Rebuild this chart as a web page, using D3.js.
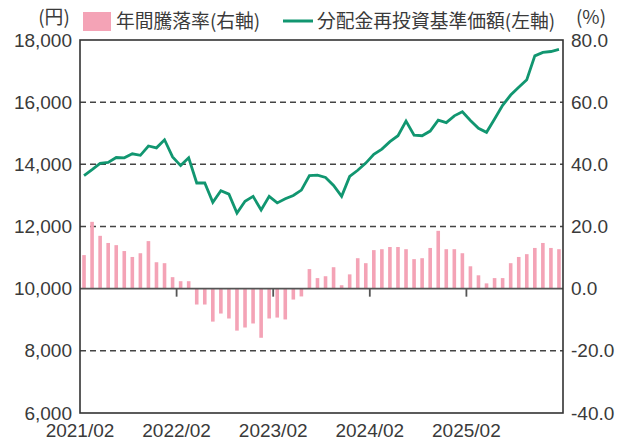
<!DOCTYPE html>
<html>
<head>
<meta charset="utf-8">
<script src="https://cdn.jsdelivr.net/npm/d3@7"></script>
<style>
  body { margin: 0; background: #fff; }
  text { fill: #3a3a3a; }
  .num { font-family: "Liberation Sans", Arial, sans-serif; font-size: 19px; }
  .jp  { font-family: "Noto Sans CJK JP", sans-serif; font-size: 18.8px; }
</style>
</head>
<body>
<div id="chart"></div>
<script>
// monthly categories 2021/02 .. 2026/01
const months = d3.timeMonth.range(new Date(2021, 1, 1), new Date(2026, 1, 1))
                  .map(d3.timeFormat('%Y/%m'));

const yearTicks = ['2021/02', '2022/02', '2023/02', '2024/02', '2025/02'];

// 分配金再投資基準価額 (円, left axis)
const navValues = [
    13640, 13830, 14030, 14060, 14220, 14210, 14340, 14290, 14590, 14530, 14790, 14240,
    13960, 14210, 13400, 13400, 12780, 13150, 13040, 12430, 12810, 12970, 12530, 12970,
    12760, 12890, 13000, 13170, 13640, 13650, 13580, 13320, 12970, 13610, 13810, 14040,
    14320, 14490, 14730, 14920, 15390, 14940, 14920, 15070, 15420, 15340, 15560, 15690,
    15410, 15160, 15030, 15460, 15900, 16230, 16480, 16720, 17490, 17600, 17630, 17700
];

// 年間騰落率 (%, right axis)
const changeValues = [
    10.8, 21.5, 17.0, 14.7, 14.0, 12.1, 10.2, 11.4, 15.3, 8.5, 8.2, 3.7,
    2.4, 2.4, -5.1, -5.1, -10.6, -8.0, -9.6, -13.5, -12.5, -11.2, -15.8, -9.6,
    -9.3, -9.9, -3.5, -2.5, 6.3, 3.4, 4.0, 6.9, 1.1, 4.6, 9.8, 8.2,
    12.4, 12.7, 13.4, 13.4, 12.7, 9.5, 9.8, 13.1, 18.6, 12.7, 12.7, 11.4,
    7.2, 4.3, 1.7, 3.4, 3.4, 8.2, 10.2, 11.1, 13.1, 14.7, 13.1, 12.7
];

const leftTicks  = [6000, 8000, 10000, 12000, 14000, 16000, 18000];
const rightTicks = [-40, -20, 0, 20, 40, 60, 80];

const width  = 629;
const height = 441;
const margin = { top: 40, right: 66, bottom: 28, left: 80 };

const barColor  = '#f4a3b6';
const lineColor = '#119670';
const gridColor = '#444';

const svg = d3.select('#chart').append('svg')
        .attr('width', width)
        .attr('height', height);

const x = d3.scaleBand()
        .domain(months)
        .range([margin.left, width - margin.right]);

const yL = d3.scaleLinear()
        .domain([6000, 18000])
        .range([height - margin.bottom, margin.top]);

const yR = d3.scaleLinear()
        .domain([-40, 80])
        .range([height - margin.bottom, margin.top]);

const fmtLeft  = d3.format(',');
const fmtRight = d3.formatLocale({ decimal: '.', thousands: ',', grouping: [3], currency: ['', ''], minus: '-' }).format('.1f');

const bw   = x.bandwidth();
const barW = 3.6;
const cx   = d => x(d) + bw / 2;

// dashed grid lines
svg.append('g')
    .selectAll('line')
    .data(leftTicks.filter(d => d !== 6000 && d !== 18000 && d !== 10000))
    .join('line')
        .attr('x1', margin.left)
        .attr('x2', width - margin.right)
        .attr('y1', d => yL(d))
        .attr('y2', d => yL(d))
        .attr('stroke', gridColor)
        .attr('stroke-width', 1.5)
        .attr('stroke-dasharray', '6,4');

// bars
svg.append('g')
    .selectAll('rect')
    .data(changeValues)
    .join('rect')
        .attr('x', (d, i) => cx(months[i]) - barW / 2)
        .attr('y', d => yR(Math.max(0, d)))
        .attr('width', barW)
        .attr('height', d => Math.abs(yR(d) - yR(0)))
        .attr('fill', barColor);

// zero line + year ticks hanging from it
svg.append('line')
    .attr('x1', margin.left)
    .attr('x2', width - margin.right)
    .attr('y1', yR(0))
    .attr('y2', yR(0))
    .attr('stroke', '#555')
    .attr('stroke-width', 1.8);

svg.append('g')
    .selectAll('line')
    .data(yearTicks.slice(1))
    .join('line')
        .attr('x1', d => x(d))
        .attr('x2', d => x(d))
        .attr('y1', yR(0))
        .attr('y2', yR(0) + 8)
        .attr('stroke', '#555')
        .attr('stroke-width', 1.8);

// NAV line
const line = d3.line()
        .x((d, i) => cx(months[i]))
        .y(d => yL(d));

svg.append('path')
    .datum(navValues)
    .attr('d', line)
    .attr('fill', 'none')
    .attr('stroke', lineColor)
    .attr('stroke-width', 2.8)
    .attr('stroke-linejoin', 'miter');

// frame
svg.append('rect')
    .attr('x', margin.left)
    .attr('y', margin.top)
    .attr('width', width - margin.left - margin.right)
    .attr('height', height - margin.top - margin.bottom)
    .attr('fill', 'none')
    .attr('stroke', '#333')
    .attr('stroke-width', 1.6);

// axes
const axL = svg.append('g')
        .attr('transform', `translate(${margin.left},0)`)
        .call(d3.axisLeft(yL).tickValues(leftTicks).tickSize(0).tickPadding(8).tickFormat(fmtLeft));

const axR = svg.append('g')
        .attr('transform', `translate(${width - margin.right},0)`)
        .call(d3.axisRight(yR).tickValues(rightTicks).tickSize(0).tickPadding(8).tickFormat(fmtRight));

[axL, axR].forEach(ax => {
    ax.select('.domain').remove();
    ax.selectAll('text').attr('class', 'num').attr('fill', null);
});

svg.append('g')
    .selectAll('text')
    .data(yearTicks)
    .join('text')
        .attr('class', 'num')
        .attr('x', d => x(d))
        .attr('y', height - 4)
        .attr('text-anchor', 'middle')
        .text(d => d);

// units
svg.append('text')
    .attr('class', 'jp')
    .attr('x', 54)
    .attr('y', 24)
    .attr('text-anchor', 'middle')
    .text('(円)');

svg.append('text')
    .attr('class', 'jp')
    .attr('x', 591)
    .attr('y', 24)
    .attr('text-anchor', 'middle')
    .text('(%)');

// legend
svg.append('rect')
    .attr('x', 83)
    .attr('y', 12)
    .attr('width', 28)
    .attr('height', 19)
    .attr('fill', barColor);

svg.append('text')
    .attr('class', 'jp')
    .attr('x', 116)
    .attr('y', 28)
    .text('年間騰落率(右軸)');

svg.append('line')
    .attr('x1', 283)
    .attr('x2', 313)
    .attr('y1', 21)
    .attr('y2', 21)
    .attr('stroke', lineColor)
    .attr('stroke-width', 3);

svg.append('text')
    .attr('class', 'jp')
    .attr('x', 317)
    .attr('y', 28)
    .text('分配金再投資基準価額(左軸)');
</script>
</body>
</html>
